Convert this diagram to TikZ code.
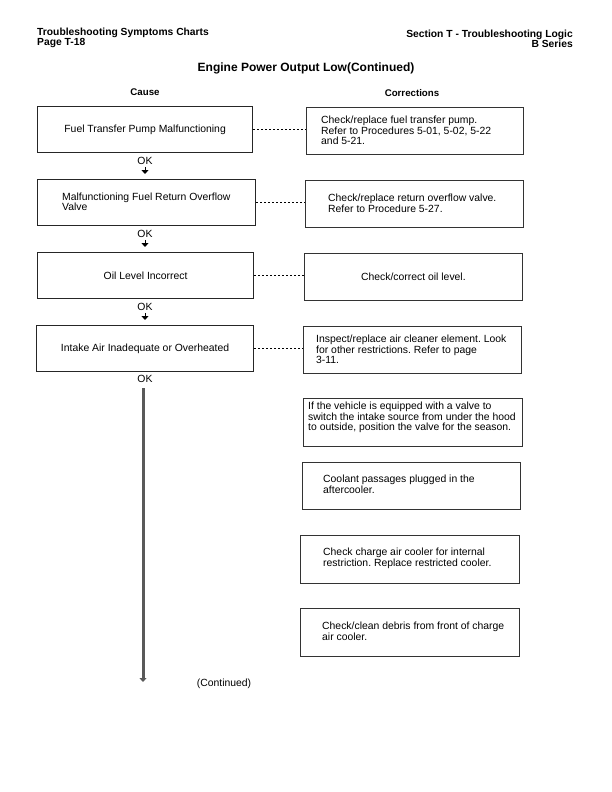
\documentclass[tikz,border=0pt]{standalone}
\usepackage{fontspec}
\setmainfont{Liberation Sans}
\usetikzlibrary{arrows.meta}
\frenchspacing
\begin{document}
\begin{tikzpicture}[x=1pt,y=-1pt,
  every node/.style={font=\fontsize{10.4}{10.5}\selectfont},
  cbox/.style={draw=black!85, line width=1.2pt, inner sep=0pt, anchor=north west, align=center},
  rbox/.style={draw=black!80, line width=0.8pt, inner sep=0pt, anchor=north west, align=center},
  txt/.style={inner sep=0pt, anchor=north west, align=left},
  hdr/.style={inner sep=0pt, font=\bfseries\fontsize{10.3}{10}\selectfont},
  oklab/.style={inner sep=0pt},
  okarrow/.style={line width=1pt, -{Triangle[width=7pt,length=4pt]}},
  bigarrow/.style={line width=3pt, draw=black!65, -{Triangle[width=7pt,length=4pt]}},
  dashline/.style={dashed, dash pattern=on 2pt off 2pt, line width=0.6pt}
]
\useasboundingbox (0,0) rectangle (611,792);
\fill[white] (0,0) rectangle (611,792);

% header
\node[hdr, anchor=north west, align=left] (hl) at (37,28) {Troubleshooting Symptoms Charts\\Page T-18};
\node[hdr, anchor=north east, align=right] (hr) at (573,30) {Section T - Troubleshooting Logic\\B Series};
\node[inner sep=0pt, font=\bfseries\fontsize{12}{12}\selectfont] (title) at (306,68) {Engine Power Output Low(Continued)};
\node[inner sep=0pt, font=\bfseries\fontsize{9.7}{10}\selectfont] (cause) at (145,92) {Cause};
\node[inner sep=0pt, font=\bfseries\fontsize{9.7}{10}\selectfont] (corr) at (412,93) {Corrections};

% cause boxes
\node[cbox, minimum width=215pt, minimum height=46pt] (c1) at (37,106) {Fuel Transfer Pump Malfunctioning};
\node[cbox, minimum width=218pt, minimum height=46pt] (c2) at (37,179) {};
\node[txt, anchor=west] (c2t) at (62,202) {Malfunctioning Fuel Return Overflow\\Valve};
\node[cbox, minimum width=216pt, minimum height=46pt] (c3) at (37,252) {Oil Level Incorrect};
\node[cbox, minimum width=217pt, minimum height=46pt] (c4) at (36,325) {Intake Air Inadequate or Overheated};

% OK labels and arrows
\node[oklab] (ok1) at (145,161) {OK};
\node[oklab] (ok2) at (145,234) {OK};
\node[oklab] (ok3) at (145,307) {OK};
\node[oklab] (ok4) at (145,379) {OK};
\coordinate (a1) at (145,174);
\coordinate (a2) at (145,247);
\coordinate (a3) at (145,320);
\coordinate (a4) at (143,682);
\draw[okarrow] ([yshift=-2pt]ok1.south) -- (a1);
\draw[okarrow] ([yshift=-2pt]ok2.south) -- (a2);
\draw[okarrow] ([yshift=-2pt]ok3.south) -- (a3);
\coordinate (b4) at (143,388);
\draw[bigarrow] (b4) -- (a4);

% correction boxes
\node[rbox, minimum width=217pt, minimum height=47pt] (r1) at (306,107) {};
\node[txt] (t1) at (321,116) {Check/replace fuel transfer pump.\\Refer to Procedures 5-01, 5-02, 5-22\\and 5-21.};
\node[rbox, minimum width=218pt, minimum height=47pt] (r2) at (305,180) {};
\node[txt] (t2) at (328,194) {Check/replace return overflow valve.\\Refer to Procedure 5-27.};
\node[rbox, minimum width=218pt, minimum height=47pt] (r3) at (304,253) {Check/correct oil level.};
\node[rbox, minimum width=218pt, minimum height=47pt] (r4) at (303,326) {};
\node[txt] (t4) at (316,335) {Inspect/replace air cleaner element. Look\\for other restrictions. Refer to page\\3-11.};
\node[rbox, minimum width=219pt, minimum height=48pt] (r5) at (303,398) {};
\node[txt] (t5) at (308,402) {If the vehicle is equipped with a valve to\\switch the intake source from under the hood\\to outside, position the valve for the season.};
\node[rbox, minimum width=218pt, minimum height=47pt] (r6) at (302,462) {};
\node[txt] (t6) at (323,475) {Coolant passages plugged in the\\aftercooler.};
\node[rbox, minimum width=219pt, minimum height=48pt] (r7) at (300,535) {};
\node[txt] (t7) at (323,548) {Check charge air cooler for internal\\restriction. Replace restricted cooler.};
\node[rbox, minimum width=219pt, minimum height=48pt] (r8) at (300,608) {};
\node[txt] (t8) at (322,622) {Check/clean debris from front of charge\\air cooler.};

% dashed links
\draw[dashline] (c1.east) -- (c1.east -| r1.west);
\draw[dashline] (c2.east) -- (c2.east -| r2.west);
\draw[dashline] (c3.east) -- (c3.east -| r3.west);
\draw[dashline] (c4.east) -- (c4.east -| r4.west);

\node[inner sep=0pt] (cont) at (224,684) {(Continued)};
\end{tikzpicture}
\end{document}
